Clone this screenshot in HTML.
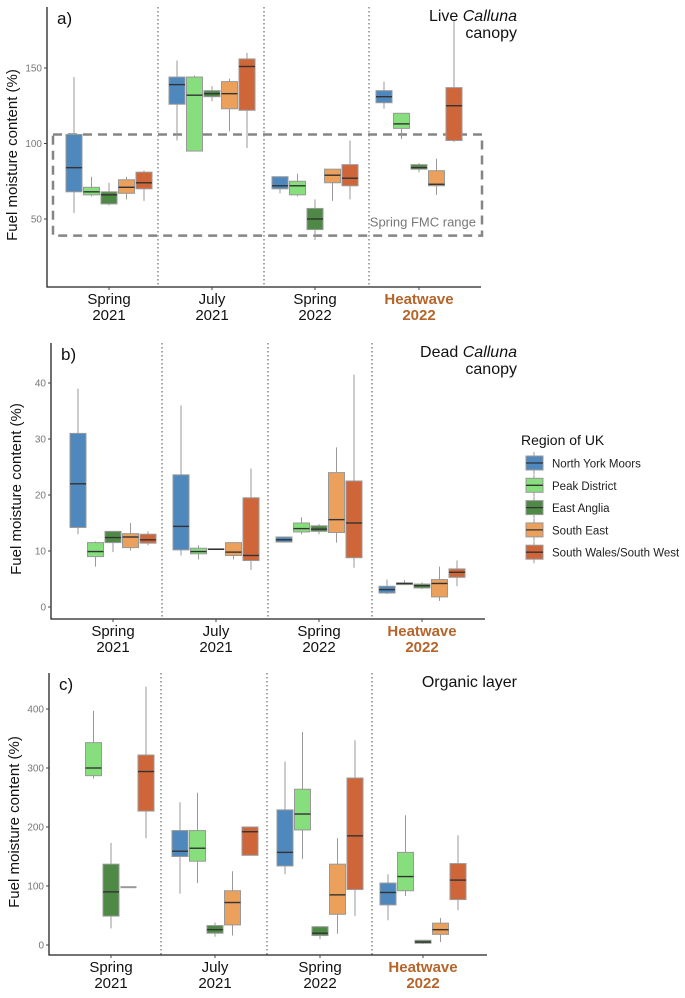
<!DOCTYPE html>
<html><head><meta charset="utf-8">
<style>
body{margin:0;background:#fff;}
svg{display:block;font-family:"Liberation Sans",sans-serif;}
</style></head>
<body>
<svg id="chart" width="685" height="998" viewBox="0 0 685 998" xmlns="http://www.w3.org/2000/svg"></svg>
<script>
const regions = ["North York Moors","Peak District","East Anglia","South East","South Wales/South West"];
const colors = ["#4f88bd","#86df7c","#4e8a46","#eba05c","#cf6639"];
const groups = [["Spring","2021"],["July","2021"],["Spring","2022"],["Heatwave","2022"]];
// [min, q1, median, q3, max] per group per region
const liveValues = [
 [[54,68,84,106,144],[65,66,68,71,78],[59,60,66,68,74],[63,67,71,76,78],[62,70,74,81,82]],
 [[102,126,139,144,155],[95,95,132,144,145],[128,131,133,135,138],[108,123,133,141,143],[97,122,151,156,160]],
 [[67,70,72,78,78],[65,66,72,75,80],[36,43,50,57,63],[62,74,79,83,83],[63,72,77,86,102]],
 [[123,127,131,135,141],[103,110,113,120,120],[81,83,84,86,87],[66,72,73,82,90],[101,102,125,137,182]]
];
const deadValues = [
 [[13,14.2,22,31,39],[7.2,9,9.9,11.5,11.7],[9.8,11.5,12.4,13.5,13.6],[10.1,10.6,12.5,13.1,15],[11,11.4,12,13,13.5]],
 [[9.2,10.2,14.4,23.6,36],[8.5,9.5,9.9,10.5,11],[10.2,10.3,10.3,10.4,10.5],[8.5,9.2,9.8,11.5,11.5],[6.6,8.3,9.2,19.5,24.7]],
 [[11.5,11.6,12,12.5,12.6],[13,13.4,14,15,16],[13,13.5,13.9,14.5,14.8],[11.5,13.3,15.6,24,28.5],[7,8.8,15,22.5,41.5]],
 [[2.3,2.5,3.1,3.7,4.9],[3.9,4,4.2,4.3,4.8],[3.2,3.4,3.8,4.1,4.4],[1.1,1.8,4.2,4.9,7.2],[3.7,5.3,6.2,6.8,8.3]]
];
const organicValues = [
 [null,[282,287,300,343,397],[28,49,90,137,173],[98,98,98,98,98],[181,227,294,322,438]],
 [[87,150,159,194,242],[105,142,164,194,258],[14,20,26,33,38],[16,34,72,92,125],[152,152,192,200,200]],
 [[120,134,157,229,311],[146,195,222,264,361],[10,16,20,31,31],[19,52,85,137,181],[49,94,185,283,347]],
 [[42,68,89,105,120],[83,92,116,157,220],[2,3,5,8,8],[5,18,26,37,46],[59,77,110,138,186]]
];
const liveTicks = [50,100,150];
const deadTicks = [0,10,20,30,40];
const organicTicks = [0,100,200,300,400];

const svg = document.getElementById('chart');
const NS = "http://www.w3.org/2000/svg";
function mk(tag, attrs, parent){
  const e = document.createElementNS(NS, tag);
  for (const k in attrs) e.setAttribute(k, attrs[k]);
  (parent||svg).appendChild(e);
  return e;
}

const panels = [
 {id:"live", letter:"a)", title:["Live ","Calluna","canopy"], data:liveValues, ticks:liveTicks,
  x0:47, x1:481, top:7, bottom:287, v0:50, y0:219, v1:150, y1:68,
  centers:[109,212,315,419], seps:[158,264,369]},
 {id:"dead", letter:"b)", title:["Dead ","Calluna","canopy"], data:deadValues, ticks:deadTicks,
  x0:51, x1:485, top:343, bottom:619, v0:0, y0:607, v1:40, y1:383,
  centers:[113,216,319,422], seps:[162,268,372]},
 {id:"organic", letter:"c)", title:["Organic layer"], data:organicValues, ticks:organicTicks,
  x0:49, x1:487, top:673, bottom:955, v0:0, y0:945, v1:400, y1:709,
  centers:[111,215,320,423], seps:[161,267,372]}
];

panels.forEach(p=>{
  const g = mk('g',{});
  
  
  const yS = v => p.y0 + (v - p.v0) * (p.y1 - p.y0) / (p.v1 - p.v0);
  const step = 17.5, bw = 16;
  // separators
  p.seps.forEach((sx,i)=>{
    const l = mk('line',{x1:sx,x2:sx,y1:p.top,y2:p.bottom,stroke:"#777","stroke-width":1.3,"stroke-dasharray":"1.5 2.5"},g);
    
    
  });
  if (p.id==="live"){
    const r = mk('rect',{x:53,y:yS(106),width:429,height:yS(39)-yS(106),fill:"none",stroke:"#858585","stroke-width":2.5,"stroke-dasharray":"9 6"},g);
    
    
    const t = mk('text',{x:476,y:yS(39)-9,"text-anchor":"end","font-size":13,fill:"#777"},g);
    t.textContent = "Spring FMC range";
    
    
  }
  // boxes
  p.data.forEach((grp,gi)=>{
    grp.forEach((d,ri)=>{
      if (!d) return;
      const cx = p.centers[gi] + (ri-2)*step;
      const bg = mk('g',{},g);
      
      
      mk('line',{x1:cx,x2:cx,y1:yS(d[4]),y2:yS(d[0]),stroke:"#999","stroke-width":1},bg);
      if (d[3]===d[1]){
        mk('line',{x1:cx-bw/2,x2:cx+bw/2,y1:yS(d[2]),y2:yS(d[2]),stroke:"#999","stroke-width":2},bg);
      } else {
        mk('rect',{x:cx-bw/2,y:yS(d[3]),width:bw,height:yS(d[1])-yS(d[3]),fill:colors[ri],stroke:"#999","stroke-width":1},bg);
        mk('line',{x1:cx-bw/2,x2:cx+bw/2,y1:yS(d[2]),y2:yS(d[2]),stroke:"#333","stroke-width":1.4},bg);
      }
    });
  });
  // axes
  const ax = mk('path',{d:`M${p.x0},${p.top} V${p.bottom} H${p.x1}`,fill:"none",stroke:"#222","stroke-width":1.3},g);
  
  
  p.ticks.forEach(v=>{
    const y = yS(v);
    mk('line',{x1:p.x0-3,x2:p.x0,y1:y,y2:y,stroke:"#444"},g);
    const t = mk('text',{x:p.x0-5,y:y+3.5,"text-anchor":"end","font-size":10,fill:"#777"},g);
    t.textContent = v;
    
    
  });
  p.centers.forEach((cx,i)=>{
    mk('line',{x1:cx,x2:cx,y1:p.bottom,y2:p.bottom+3,stroke:"#444"},g);
    const hw = i===3;
    [0,1].forEach(k=>{
      const t = mk('text',{x:cx,y:p.bottom+17+k*16,"text-anchor":"middle","font-size":15,fill:hw?"#b5652a":"#111","font-weight":hw?"bold":"normal"},g);
      t.textContent = groups[i][k];
      
      
    });
  });
  const yt = mk('text',{transform:`translate(${p.x0-30},${(p.top+p.bottom)/2+8}) rotate(-90)`,"text-anchor":"middle","font-size":15,fill:"#111"},g);
  yt.textContent = "Fuel moisture content (%)";
  
  
  const lt = mk('text',{x:p.x0+10,y:p.top+17,"font-size":17,fill:"#111"},g);
  lt.textContent = p.letter;
  
  
  const tt = mk('text',{x:517,y:p.top+14,"text-anchor":"end","font-size":16,fill:"#111"},g);
  
  
  if (p.title.length===3){
    const s1 = mk('tspan',{},tt); s1.textContent = p.title[0];
    const s2 = mk('tspan',{"font-style":"italic"},tt); s2.textContent = p.title[1];
    const t2 = mk('text',{x:517,y:p.top+31,"text-anchor":"end","font-size":16,fill:"#111"},g);
    t2.textContent = p.title[2];
    
    
  } else tt.textContent = p.title[0];
});

// legend
const lg = mk('g',{});


const lt = mk('text',{x:521,y:445,"font-size":14,fill:"#111"},lg);
lt.textContent = "Region of UK";


regions.forEach((r,i)=>{
  const y = 463 + i*22.3;
  const e = mk('g',{},lg);
  
  
  mk('line',{x1:534,x2:534,y1:y-11,y2:y+11,stroke:"#999"},e);
  mk('rect',{x:526,y:y-7,width:17,height:14,fill:colors[i],stroke:"#999"},e);
  mk('line',{x1:526,x2:543,y1:y,y2:y,stroke:"#333","stroke-width":1.3},e);
  const t = mk('text',{x:552,y:y+4.5,"font-size":11.5,fill:"#222"},e);
  t.textContent = r;
});
</script>
</body></html>
